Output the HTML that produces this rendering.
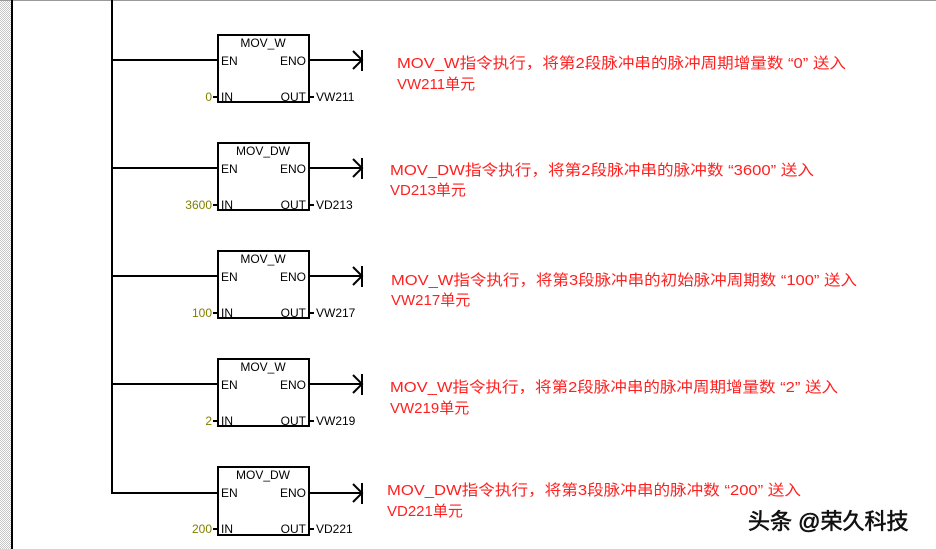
<!DOCTYPE html>
<html><head><meta charset="utf-8"><style>
body{margin:0;background:#fff;}
svg{display:block}
.t{font-family:"Liberation Sans","DejaVu Sans",sans-serif;font-size:12px;fill:#000}
.r{font-family:"Liberation Sans","Noto Sans CJK SC",sans-serif;font-size:15px;fill:#ff2020}
.y{font-family:"Liberation Sans",sans-serif;font-size:12px;fill:#808000}
</style></head><body>
<svg width="936" height="549" viewBox="0 0 936 549" xmlns="http://www.w3.org/2000/svg">
<defs><pattern id="h" width="2" height="2" patternUnits="userSpaceOnUse"><rect width="2" height="2" fill="#fff"/><rect width="1" height="1" fill="#c4c4c4"/><rect x="1" y="1" width="1" height="1" fill="#c4c4c4"/></pattern></defs>
<rect x="0" y="0" width="11" height="549" fill="url(#h)"/>
<rect x="0" y="0" width="936" height="1" fill="#999"/>
<rect x="11" y="0" width="2" height="549" fill="#000"/>
<rect x="111" y="0" width="2" height="494" fill="#000"/>
<g stroke="#000" stroke-width="2" fill="none">
 <path d="M112 60H218M309 60H362M353 51L362 60L353 69M362 50V71"/>
 <rect x="218" y="35" width="91" height="67"/>
 <path d="M112 168H218M309 168H362M353 159L362 168L353 177M362 158V179"/>
 <rect x="218" y="143" width="91" height="67"/>
 <path d="M112 276H218M309 276H362M353 267L362 276L353 285M362 266V287"/>
 <rect x="218" y="251" width="91" height="67"/>
 <path d="M112 384H218M309 384H362M353 375L362 384L353 393M362 374V395"/>
 <rect x="218" y="359" width="91" height="67"/>
 <path d="M112 493H218M309 493H362M353 484L362 493L353 502M362 483V504"/>
 <rect x="218" y="467" width="91" height="68"/>
</g>
<g stroke="#000" stroke-width="2">
 <path d="M213 97H218M309 97H314"/>
 <path d="M213 205H218M309 205H314"/>
 <path d="M213 313H218M309 313H314"/>
 <path d="M213 421H218M309 421H314"/>
 <path d="M213 529H218M309 529H314"/>
</g>
<g class="t">
 <text x="263" y="47" text-anchor="middle">MOV_W</text><text x="221" y="65">EN</text><text x="306" y="65" text-anchor="end">ENO</text><text x="221" y="101">IN</text><text x="306" y="101" text-anchor="end">OUT</text><text x="316" y="101">VW211</text>
 <text x="263" y="155" text-anchor="middle">MOV_DW</text><text x="221" y="173">EN</text><text x="306" y="173" text-anchor="end">ENO</text><text x="221" y="209">IN</text><text x="306" y="209" text-anchor="end">OUT</text><text x="316" y="209">VD213</text>
 <text x="263" y="263" text-anchor="middle">MOV_W</text><text x="221" y="281">EN</text><text x="306" y="281" text-anchor="end">ENO</text><text x="221" y="317">IN</text><text x="306" y="317" text-anchor="end">OUT</text><text x="316" y="317">VW217</text>
 <text x="263" y="371" text-anchor="middle">MOV_W</text><text x="221" y="389">EN</text><text x="306" y="389" text-anchor="end">ENO</text><text x="221" y="425">IN</text><text x="306" y="425" text-anchor="end">OUT</text><text x="316" y="425">VW219</text>
 <text x="263" y="479" text-anchor="middle">MOV_DW</text><text x="221" y="497">EN</text><text x="306" y="497" text-anchor="end">ENO</text><text x="221" y="533">IN</text><text x="306" y="533" text-anchor="end">OUT</text><text x="316" y="533">VD221</text>
</g>
<g class="y" text-anchor="end">
 <text x="212" y="101">0</text><text x="212" y="209">3600</text><text x="212" y="317">100</text><text x="212" y="425">2</text><text x="212" y="533">200</text>
</g>
<g class="r">
 <text x="397" y="68" textLength="449" lengthAdjust="spacingAndGlyphs">MOV_W指令执行，将第2段脉冲串的脉冲周期增量数 “0” 送入</text>
 <text x="397" y="89">VW211单元</text>
 <text x="390" y="175" textLength="424" lengthAdjust="spacingAndGlyphs">MOV_DW指令执行，将第2段脉冲串的脉冲数 “3600” 送入</text>
 <text x="390" y="195">VD213单元</text>
 <text x="391" y="285" textLength="466" lengthAdjust="spacingAndGlyphs">MOV_W指令执行，将第3段脉冲串的初始脉冲周期数 “100” 送入</text>
 <text x="391" y="305">VW217单元</text>
 <text x="390" y="392" textLength="448" lengthAdjust="spacingAndGlyphs">MOV_W指令执行，将第2段脉冲串的脉冲周期增量数 “2” 送入</text>
 <text x="390" y="413">VW219单元</text>
 <text x="387" y="495" textLength="414" lengthAdjust="spacingAndGlyphs">MOV_DW指令执行，将第3段脉冲串的脉冲数 “200” 送入</text>
 <text x="387" y="516">VD221单元</text>
</g>
<text x="748" y="529" style="font-family:'Liberation Sans','Noto Sans CJK SC',sans-serif;font-size:22px;fill:#111;stroke:#111;stroke-width:0.6">头条 @荣久科技</text>
</svg>
</body></html>
